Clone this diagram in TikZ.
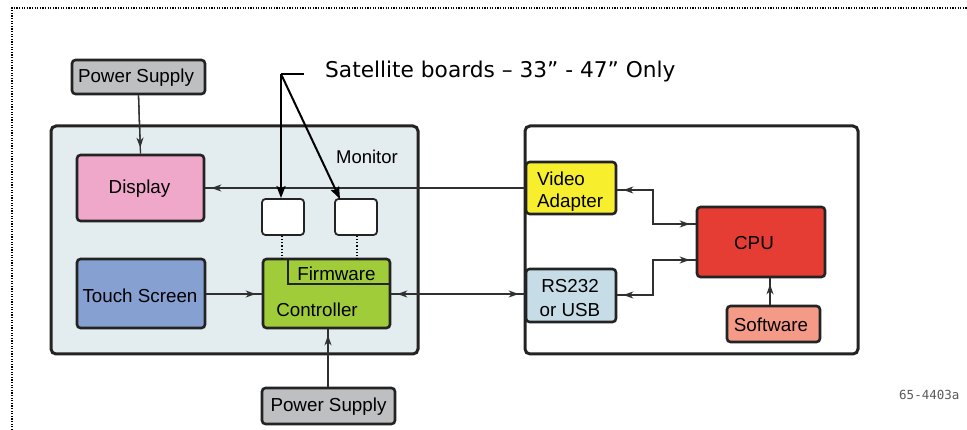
\documentclass[tikz,border=0pt]{standalone}
\usepackage{fontspec}
\setmainfont{Liberation Sans}
\newfontfamily\verdanalike{DejaVu Sans}
\newfontfamily\codefont{DejaVu Sans Mono}
\usetikzlibrary{arrows.meta}

\definecolor{edge}{HTML}{232323}
\definecolor{wire}{HTML}{303030}
\definecolor{psgray}{HTML}{BEBFC1}
\definecolor{monfill}{HTML}{E3ECEF}
\definecolor{dispfill}{HTML}{F0A8CA}
\definecolor{touchfill}{HTML}{87A0D2}
\definecolor{ctrlfill}{HTML}{A0CC3A}
\definecolor{vidfill}{HTML}{F7EE2E}
\definecolor{rsfill}{HTML}{C6DDE8}
\definecolor{cpufill}{HTML}{E53D33}
\definecolor{swfill}{HTML}{F59A86}

\tikzset{
  unit/.style={draw=edge, line width=2.6pt, rounded corners=3.5pt, inner sep=0pt,
    font=\fontsize{18.8}{21}\selectfont},
  txt/.style={inner sep=0pt, font=\fontsize{18.8}{21}\selectfont},
  frame/.style={draw=edge, line width=3pt, rounded corners=5pt, inner sep=0pt},
  wirel/.style={draw=wire, line width=1.3pt},
  % line drawn again on top, stopping short of the box with a head
  headend/.style={wirel, -{Stealth[length=10pt,width=7pt,inset=3pt]}, shorten >=6pt},
  headboth/.style={wirel, {Stealth[length=10pt,width=7pt,inset=3pt]}-{Stealth[length=10pt,width=7pt,inset=3pt]}, shorten >=6pt, shorten <=6pt},
  headstart/.style={wirel, {Stealth[length=10pt,width=7pt,inset=3pt]}-, shorten <=6pt},
  callout/.style={draw=black, line width=2pt, -{Stealth[length=12pt,width=9pt,inset=2pt]}},
}

\begin{document}
\begin{tikzpicture}[x=1pt,y=-1pt]
\useasboundingbox (0,0) rectangle (967,430);

% dotted page frame (top and left edges)
\draw[line width=1.3pt, dash pattern=on 1.2pt off 1.4pt, black] (12,430) -- (12,8) -- (967,8);

% enclosures
\node[frame, fill=monfill, minimum width=367pt, minimum height=228pt] (monitor) at (234.5,240) {};
\node[frame, fill=white, minimum width=333pt, minimum height=228pt] (pc) at (691.5,240) {};
\node[txt, font=\fontsize{18.5}{21}\selectfont] (monlbl) at (367,157) {Monitor};

% monitor side
\node[unit, fill=psgray, minimum width=133pt, minimum height=34pt] (ps1) at (138.5,77) {};
\node[txt] (ps1lbl) at (136,77.5) {Power Supply};
\node[unit, fill=dispfill, minimum width=127pt, minimum height=66pt] (disp) at (140.5,188) {};
\node[txt] (displbl) at (139.5,188.5) {Display};
\node[unit, fill=touchfill, minimum width=128pt, minimum height=69pt] (touch) at (141,293.5) {};
\node[txt] (touchlbl) at (140,296) {Touch Screen};
\node[unit, fill=ctrlfill, minimum width=127pt, minimum height=69pt] (ctrl) at (326.5,293.5) {};
\node[txt] (ctrllbl) at (317,309.5) {Controller};
\node[txt] (fwlbl) at (336.5,273.5) {Firmware};
\draw[draw=edge, line width=1.8pt] (288,259) |- (391,284);
\node[unit, fill=white, line width=1.8pt, minimum width=42pt, minimum height=36pt] (sat1) at (283,217) {};
\node[unit, fill=white, line width=1.8pt, minimum width=42pt, minimum height=36pt] (sat2) at (356,217) {};
\node[unit, fill=psgray, minimum width=133pt, minimum height=36pt] (ps2) at (328.5,406) {};
\node[txt] (ps2lbl) at (328.5,407) {Power Supply};

% satellite board links to the controller
\draw[line width=1.2pt, dotted] (sat1.south -| 282,0) -- (282,259);
\draw[line width=1.2pt, dotted] (sat2.south -| 357,0) -- (357,259);

% computer side
\node[unit, fill=vidfill, minimum width=90pt, minimum height=52pt] (video) at (571,188) {};
\node[txt, anchor=west] (vid1) at (537,178.5) {Video};
\node[txt, anchor=west] (vid2) at (537,203) {Adapter};
\node[unit, fill=rsfill, minimum width=90pt, minimum height=53pt] (rs) at (571,295.5) {};
\node[txt] (rs1) at (570,286) {RS232};
\node[txt] (rs2) at (570,310) {or USB};
\node[unit, fill=cpufill, minimum width=128pt, minimum height=70pt] (cpu) at (761,242) {};
\node[txt] (cpulbl) at (754,243.5) {CPU};
\node[unit, fill=swfill, minimum width=93pt, minimum height=36pt] (sw) at (773.5,324) {};
\node[txt] (swlbl) at (771,325) {Software};

% connectors: a full line to the box edge, then the same segment with its heads
\coordinate (vbend1) at (653,190);
\coordinate (vbend2) at (653,224);
\coordinate (rbend1) at (653,295);
\coordinate (rbend2) at (653,260);

\draw[wirel] (ps1.south) -- (disp.north);
\draw[headend] (ps1.south) -- (disp.north);
\draw[wirel] (video.west |- 0,188) -- (disp.east |- 0,188);
\draw[headend] (video.west |- 0,188) -- (disp.east |- 0,188);
\draw[wirel] (touch.east |- 0,294) -- (ctrl.west |- 0,294);
\draw[headend] (touch.east |- 0,294) -- (ctrl.west |- 0,294);
\draw[wirel] (ctrl.east |- 0,294) -- (rs.west |- 0,294);
\draw[headboth] (ctrl.east |- 0,294) -- (rs.west |- 0,294);
\draw[wirel] (ps2.north -| 328,0) -- (ctrl.south -| 328,0);
\draw[headend] (ps2.north -| 328,0) -- (ctrl.south -| 328,0);
\draw[wirel] (sw.north -| 770,0) -- (cpu.south -| 770,0);
\draw[headend] (sw.north -| 770,0) -- (cpu.south -| 770,0);

\draw[wirel, line join=miter] (video.east |- vbend1) -- (vbend1) -- (vbend2) -- (cpu.west |- vbend2);
\draw[headstart] (video.east |- vbend1) -- (vbend1);
\draw[headend] (vbend2) -- (cpu.west |- vbend2);
\draw[wirel, line join=miter] (rs.east |- rbend1) -- (rbend1) -- (rbend2) -- (cpu.west |- rbend2);
\draw[headstart] (rs.east |- rbend1) -- (rbend1);
\draw[headend] (rbend2) -- (cpu.west |- rbend2);

% satellite board callout
\coordinate (bend) at (281,74);
\coordinate (tail) at (304,74);
\node[font=\verdanalike\fontsize{21.7}{24}\selectfont, anchor=west, inner sep=0pt] (satlbl) at (325,72) {Satellite boards – 33” - 47” Only};
\draw[line width=2pt, black] (tail) -- (bend);
\draw[callout] (bend) -- (bend |- sat1.north);
\draw[callout] (bend) -- (340,199);

% drawing number
\node[font=\codefont\fontsize{12.5}{14}\selectfont, text=black!65, anchor=west, inner sep=0pt] (dwg) at (899,395) {65-4403a};
\end{tikzpicture}
\end{document}
